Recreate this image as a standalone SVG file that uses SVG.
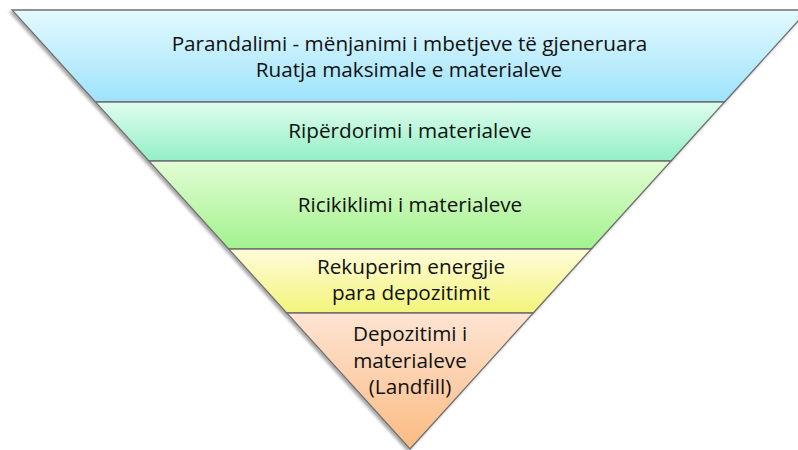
<svg xmlns="http://www.w3.org/2000/svg" width="798" height="450" viewBox="0 0 798 450">
<defs>
<linearGradient id="g1" x1="0" y1="0" x2="0" y2="1"><stop offset="0" stop-color="#e4f9ff"/><stop offset="1" stop-color="#9de3fb"/></linearGradient>
<linearGradient id="g2" x1="0" y1="0" x2="0" y2="1"><stop offset="0" stop-color="#dffdee"/><stop offset="1" stop-color="#93efc6"/></linearGradient>
<linearGradient id="g3" x1="0" y1="0" x2="0" y2="1"><stop offset="0" stop-color="#e2fdd4"/><stop offset="1" stop-color="#a2f28e"/></linearGradient>
<linearGradient id="g4" x1="0" y1="0" x2="0" y2="1"><stop offset="0" stop-color="#fffcda"/><stop offset="1" stop-color="#f3f47a"/></linearGradient>
<linearGradient id="g5" x1="0" y1="0" x2="0" y2="1"><stop offset="0" stop-color="#fde4d3"/><stop offset="1" stop-color="#fbbb82"/></linearGradient>
<filter id="sh" x="-10%" y="-10%" width="120%" height="120%">
<feDropShadow dx="-2" dy="2" stdDeviation="1.6" flood-color="#000" flood-opacity="0.35"/>
</filter>
</defs>
<style>
.band{stroke:#707070;stroke-width:1.3;stroke-linejoin:miter}
.t{font-family:"Open Sans","Noto Sans",sans-serif;font-size:20.7px;fill:#111;text-anchor:middle}
</style>
<g filter="url(#sh)">
<g id="band1"><polygon class="band" fill="url(#g1)" points="12,10 808,10 724.6,102 95.4,102"/></g>
<g id="band2"><polygon class="band" fill="url(#g2)" points="95.4,102 724.6,102 671.1,161 148.9,161"/></g>
<g id="band3"><polygon class="band" fill="url(#g3)" points="148.9,161 671.1,161 591.3,249 228.7,249"/></g>
<g id="band4"><polygon class="band" fill="url(#g4)" points="228.7,249 591.3,249 533.3,313 286.7,313"/></g>
<g id="band5"><polygon class="band" fill="url(#g5)" points="286.7,313 533.3,313 410,449"/></g>
</g>
<g id="labels">
<text class="t" x="409.5" y="50.5">Parandalimi - mënjanimi i mbetjeve të gjeneruara</text>
<text class="t" x="409" y="77">Ruatja maksimale e materialeve</text>
<text class="t" x="410" y="138">Ripërdorimi i materialeve</text>
<text class="t" x="410" y="212">Ricikiklimi i materialeve</text>
<text class="t" x="411" y="274"><tspan x="411" y="274">Rekuperim energjie</tspan><tspan x="411" y="300">para depozitimit</tspan></text>
<text class="t" x="410" y="341"><tspan x="410" y="341">Depozitimi i</tspan><tspan x="410" y="368">materialeve</tspan><tspan x="410" y="394">(Landfill)</tspan></text>
</g>
</svg>
